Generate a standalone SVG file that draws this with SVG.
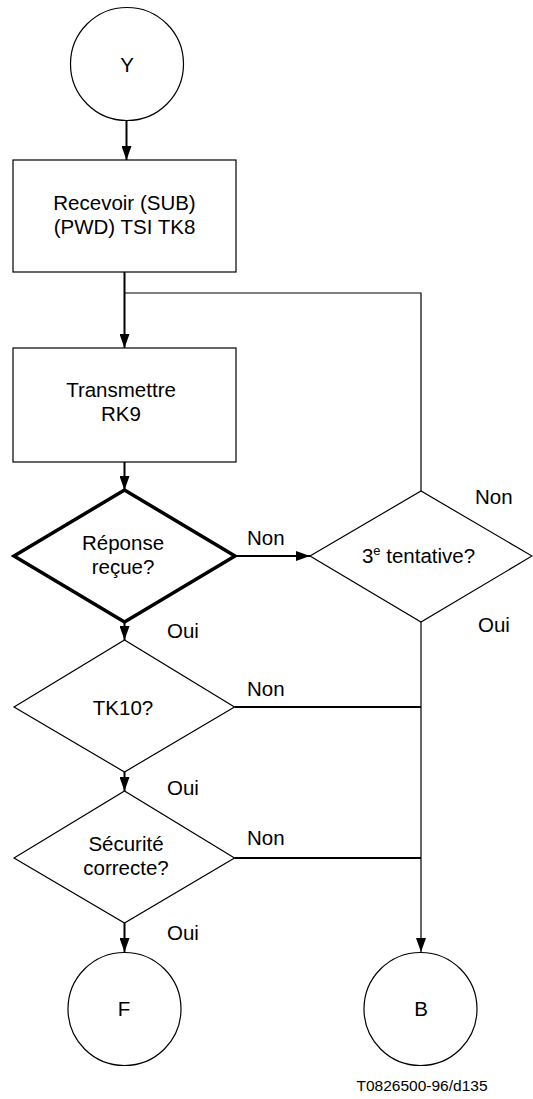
<svg xmlns="http://www.w3.org/2000/svg" width="533" height="1099" viewBox="0 0 533 1099">
<style>
  .shape { fill: #fff; stroke: #000; stroke-width: 1.2; }
  .thick { fill: #fff; stroke: #000; stroke-width: 3.5; stroke-linejoin: miter; }
  .conn { fill: none; stroke: #000; stroke-width: 2; }
  .thin { fill: none; stroke: #000; stroke-width: 1.2; }
  text { font-family: "Liberation Sans", Arial, sans-serif; font-size: 20.5px; fill: #000; }
  .mid { text-anchor: middle; }
  .cap { font-size: 15.5px; }
</style>
<defs>
  <marker id="arr" markerUnits="userSpaceOnUse" markerWidth="14" markerHeight="10" refX="14" refY="5" orient="auto">
    <path d="M0,0 L14,5 L0,10 z" fill="#000"/>
  </marker>
</defs>
<rect width="533" height="1099" fill="#fff"/>

<g id="connectors">
  <line class="conn" x1="126.5" y1="120.5" x2="126.5" y2="160" marker-end="url(#arr)"/>
  <line class="conn" x1="124.5" y1="272" x2="124.5" y2="348" marker-end="url(#arr)"/>
  <path class="thin" d="M124.5,293 H421 V491"/>
  <line class="conn" x1="124.5" y1="462" x2="124.5" y2="490" marker-end="url(#arr)"/>
  <line class="conn" x1="235" y1="556" x2="310" y2="556" marker-end="url(#arr)"/>
  <line class="conn" x1="124.5" y1="622" x2="124.5" y2="640" marker-end="url(#arr)"/>
  <line class="conn" x1="124.5" y1="772" x2="124.5" y2="791" marker-end="url(#arr)"/>
  <line class="conn" x1="124.5" y1="923" x2="124.5" y2="952" marker-end="url(#arr)"/>
  <line class="thin" x1="421" y1="622" x2="421" y2="952" marker-end="url(#arr)"/>
  <path class="conn" d="M234.5,707 H421"/>
  <path class="conn" d="M234.5,858 H421"/>
  <text x="247" y="545">Non</text>
  <text x="167" y="638">Oui</text>
  <text x="475" y="504">Non</text>
  <text x="478" y="632">Oui</text>
  <text x="247" y="696">Non</text>
  <text x="167" y="795">Oui</text>
  <text x="247" y="845">Non</text>
  <text x="167" y="940">Oui</text>
</g>

<g id="node-Y">
  <circle class="shape" cx="127" cy="64" r="56.5"/>
  <text class="mid" x="127" y="71.5">Y</text>
</g>

<g id="node-recevoir">
  <rect class="shape" x="13" y="160" width="223" height="112"/>
  <text class="mid" x="124.5" y="210">Recevoir (SUB)</text>
  <text class="mid" x="124.5" y="234">(PWD) TSI TK8</text>
</g>

<g id="node-transmettre">
  <rect class="shape" x="13" y="348" width="223" height="114"/>
  <text class="mid" x="121" y="397">Transmettre</text>
  <text class="mid" x="121" y="421">RK9</text>
</g>

<g id="node-reponse">
  <polygon class="thick" points="14,556 124.5,490 235,556 124.5,622"/>
  <text class="mid" x="123" y="550">Réponse</text>
  <text class="mid" x="123" y="574">reçue?</text>
</g>

<g id="node-tentative">
  <polygon class="shape" points="310,556 421,491 532,556 421,622"/>
  <text class="mid" x="418.5" y="563">3<tspan font-size="13" dy="-8">e</tspan><tspan dy="8"> tentative?</tspan></text>
</g>

<g id="node-tk10">
  <polygon class="shape" points="14,707 124.5,640 234.5,707 124.5,772"/>
  <text class="mid" x="123" y="715">TK10?</text>
</g>

<g id="node-securite">
  <polygon class="shape" points="14,858 124.5,791 234.5,858 124.5,923"/>
  <text class="mid" x="126" y="851">Sécurité</text>
  <text class="mid" x="126" y="875">correcte?</text>
</g>

<g id="node-F">
  <circle class="shape" cx="124.5" cy="1009" r="56.5"/>
  <text class="mid" x="124" y="1016">F</text>
</g>

<g id="node-B">
  <circle class="shape" cx="420.5" cy="1009" r="56.5"/>
  <text class="mid" x="421" y="1016">B</text>
</g>

<text class="cap" x="356.5" y="1091">T0826500-96/d135</text>
</svg>
